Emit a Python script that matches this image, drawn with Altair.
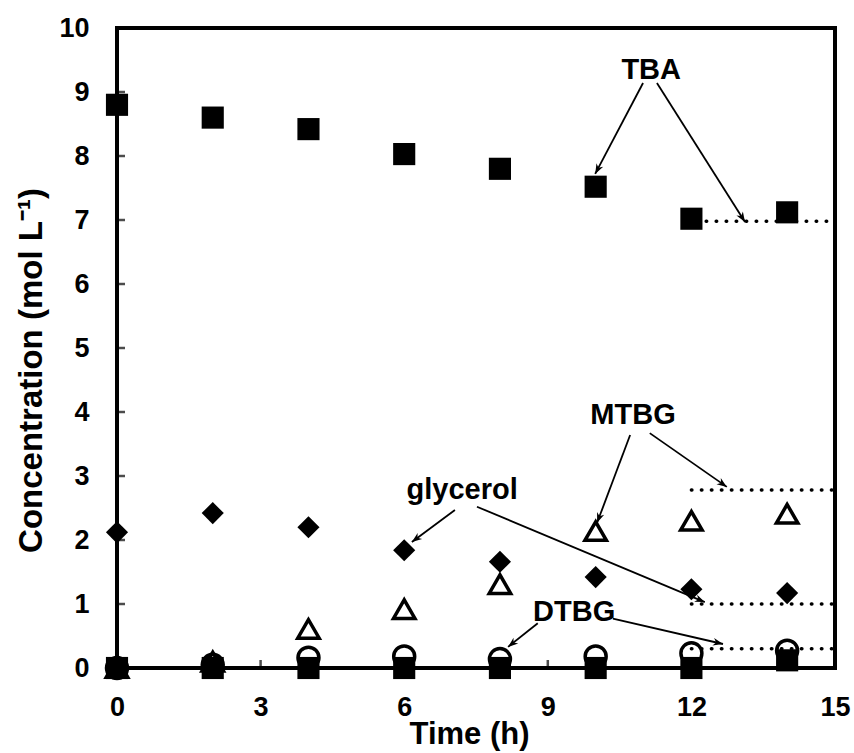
import math
import altair as alt
import pandas as pd

# ---- data ----
time_h = [0, 2, 4, 6, 8, 10, 12, 14]
tba = [8.8, 8.6, 8.42, 8.03, 7.8, 7.52, 7.02, 7.12]
glycerol = [2.12, 2.42, 2.2, 1.84, 1.66, 1.42, 1.23, 1.17]
mtbg = [0.0, 0.1, 0.61, 0.92, 1.31, 2.14, 2.30, 2.41]
dtbg = [0.0, 0.05, 0.16, 0.18, 0.14, 0.18, 0.23, 0.27]
ttbg = [0.0, 0.0, 0.0, 0.0, 0.0, 0.0, 0.0, 0.12]

x_ticks = [0, 3, 6, 9, 12, 15]
y_ticks = [0, 1, 2, 3, 4, 5, 6, 7, 8, 9, 10]
inner_x_ticks = [3, 6, 9, 12]
inner_y_ticks = [1, 2, 3, 4, 5, 6, 7, 8, 9]

# dotted reference lines (final levels)
dot_y = [6.98, 2.78, 1.0, 0.3]
dot_x1 = [12.1, 12.0, 12.0, 12.0]
dot_x2 = [15, 15, 15, 15]

# annotation labels
lab_text = ["TBA", "MTBG", "glycerol", "DTBG"]
lab_x = [11.16, 10.78, 7.21, 9.55]
lab_y = [9.34, 3.95, 2.78, 0.875]

# arrows: start -> tip
arr_x1 = [10.99, 11.28, 10.72, 11.13, 7.06, 7.52, 8.79, 10.36]
arr_y1 = [9.14, 9.14, 3.64, 3.67, 2.47, 2.52, 0.70, 0.77]
arr_x2 = [9.99, 13.12, 10.03, 12.74, 6.16, 12.28, 8.17, 12.66]
arr_y2 = [7.72, 6.97, 2.27, 2.83, 1.97, 1.03, 0.33, 0.375]

# ---- layout ----
W, H = 718, 640
XMAX, YMAX = 15, 10
px_x = W / XMAX
px_y = H / YMAX

FONT = "Liberation Sans"

xs = alt.Scale(domain=[0, XMAX], nice=False, zero=False)
ys = alt.Scale(domain=[0, YMAX], nice=False, zero=False)

x_axis = alt.Axis(values=x_ticks, domain=False, ticks=False, grid=False,
                  labelFlush=False, labelFont=FONT, labelFontSize=27,
                  labelFontWeight="bold", labelColor="black",
                  labelPadding=26,
                  title="Time (h)", titleFont=FONT, titleFontSize=31,
                  titleFontWeight="bold", titleColor="black",
                  titleX=352, titleY=75, titleAlign="center",
                  titleBaseline="alphabetic")
y_axis = alt.Axis(values=y_ticks, domain=False, ticks=False, grid=False,
                  labelFlush=False, labelFont=FONT, labelFontSize=27,
                  labelFontWeight="bold", labelColor="black",
                  labelPadding=28,
                  title="Concentration (mol L\u207b\u00b9)", titleFont=FONT,
                  titleFontSize=33, titleFontWeight="bold", titleColor="black",
                  titleX=-86, titleY=342, titleAngle=270, titleAlign="center",
                  titleBaseline="middle")


def X(field):
    return alt.X(field, scale=xs, axis=x_axis)


def Y(field):
    return alt.Y(field, scale=ys, axis=y_axis)


pts = pd.DataFrame({"t": time_h, "TBA": tba, "glycerol": glycerol,
                    "MTBG": mtbg, "DTBG": dtbg, "TTBG": ttbg})
base = alt.Chart(pts)


def series(col, shape, filled, size, sw=3.5):
    kw = dict(shape=shape, size=size, color="black", opacity=1)
    if filled:
        kw.update(filled=True, strokeWidth=0)
    else:
        kw.update(filled=False, strokeWidth=sw)
    return base.mark_point(**kw).encode(x=X("t:Q"), y=Y(f"{col}:Q"))


tri = series("MTBG", "triangle-up", False, 460)
circ = series("DTBG", "circle", False, 440)
dia = series("glycerol", "diamond", True, 490)
sq_low = series("TTBG", "square", True, 490)
sq = series("TBA", "square", True, 490)

# dotted lines
dots = alt.Chart(pd.DataFrame({"x1": dot_x1, "x2": dot_x2, "y": dot_y})).mark_rule(
    color="black", strokeWidth=3.5, strokeDash=[0.5, 9.5], strokeCap="round"
).encode(x=X("x1:Q"), x2="x2:Q", y=Y("y:Q"))

# arrows
angles = []
for a, b, c, d in zip(arr_x1, arr_y1, arr_x2, arr_y2):
    dxs = (c - a) * px_x
    dys = -(d - b) * px_y
    angles.append(math.degrees(math.atan2(dxs, -dys)) % 360)
arr_df = pd.DataFrame({"x1": arr_x1, "y1": arr_y1, "x2": arr_x2,
                       "y2": arr_y2, "ang": angles})
arr_lines = alt.Chart(arr_df).mark_rule(color="black", strokeWidth=1.8).encode(
    x=X("x1:Q"), y=Y("y1:Q"), x2="x2:Q", y2="y2:Q")
arr_heads = alt.Chart(arr_df).mark_point(
    shape="M0,0L-0.38,1L0,0.7L0.38,1Z", size=400, filled=True,
    color="black", opacity=1, strokeWidth=0
).encode(x=X("x2:Q"), y=Y("y2:Q"), angle=alt.Angle("ang:Q", scale=None))

labels = alt.Chart(pd.DataFrame({"x": lab_x, "y": lab_y, "txt": lab_text})).mark_text(
    font=FONT, fontSize=29, fontWeight="bold", color="black",
    align="center", baseline="middle"
).encode(x=X("x:Q"), y=Y("y:Q"), text="txt:N")

# inward ticks
xt = alt.Chart(pd.DataFrame({"v": inner_x_ticks})).mark_tick(
    color="black", size=8, thickness=2.5, orient="vertical"
).encode(x=X("v:Q"), y=alt.value(H - 4))
yt = alt.Chart(pd.DataFrame({"v": inner_y_ticks})).mark_tick(
    color="black", size=8, thickness=2.5, orient="horizontal"
).encode(y=Y("v:Q"), x=alt.value(4))

chart = alt.layer(
    tri, dots, arr_lines, arr_heads, labels, circ, dia, sq_low, sq, xt, yt
).properties(
    width=W, height=H,
    autosize=alt.AutoSizeParams(type="none"),
    padding={"left": 117, "top": 28, "right": 19, "bottom": 85},
    background="white",
).configure_view(stroke="black", strokeWidth=4)

chart.save("out.html", embed_options={"renderer": "svg", "actions": False})
